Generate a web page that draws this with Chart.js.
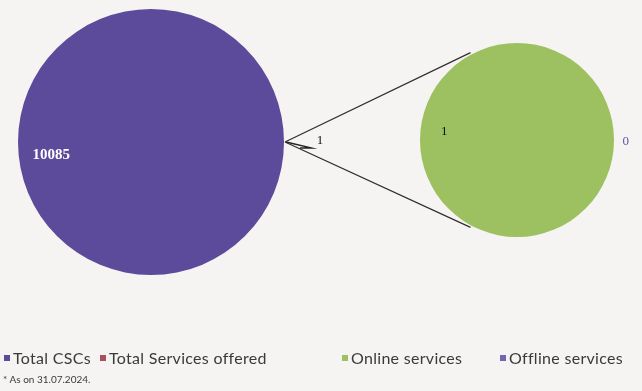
<!DOCTYPE html>
<html>
<head>
<meta charset="utf-8">
<script src="https://cdn.jsdelivr.net/npm/chart.js@4.4.0/dist/chart.umd.min.js"></script>
<style>
  html, body { margin: 0; padding: 0; }
  body {
    width: 642px; height: 391px; overflow: hidden; position: relative;
    background: #f6f4f3; font-family: Lato, 'Open Sans', sans-serif; color: #3a3a3a;
  }
  canvas { position: absolute; left: 0; top: 0; }
  #legend { position: absolute; left: 0; top: 348px; width: 642px; height: 22px; font-size: 16px; letter-spacing: 0.3px; white-space: nowrap; }
  #legend .item { position: absolute; top: 0; }
  #legend .sw { display: inline-block; width: 6px; height: 6px; margin-right: 3px; vertical-align: 3px; }
  #note { position: absolute; left: 3px; top: 373px; font-size: 10px; }
</style>
</head>
<body>
<canvas id="mainPie" width="642" height="391"></canvas>
<canvas id="subPie" width="642" height="391"></canvas>
<div id="legend"></div>
<div id="note">* As on 31.07.2024.</div>

<script>
// Pie of pie: CSC figures (as on 31.07.2024)
const mainLabels = ['Total CSCs', 'Total Services offered'];
const mainValues = [10085, 0];
const subLabels = ['Online services', 'Offline services'];
const subValues = [1, 0];

const mainColors = ['#5c4a9b', '#a5525d'];
const subColors = ['#9dc160', '#7565b0'];
const legendX = [4, 100, 342, 500];

// the "other" slice of the main pie is what gets split into the second pie
const otherValue = subValues.reduce((a, b) => a + b, 0);
const mainTotal = mainValues.reduce((a, b) => a + b, 0) + otherValue;

// pie labels, placed from the arc geometry
const pieLabels = {
    id: 'pieLabels',
    afterDatasetsDraw(chart, args, opts) {
        const ctx = chart.ctx;
        const meta = chart.getDatasetMeta(0);
        const data = chart.data.datasets[0].data;
        ctx.save();
        ctx.textAlign = 'center';
        ctx.textBaseline = 'middle';
        meta.data.forEach((arc, i) => {
            const spec = opts.items[i];
            if (!spec) return;
            const p = arc.getProps(['x', 'y', 'startAngle', 'endAngle', 'outerRadius'], true);
            const mid = (p.startAngle + p.endAngle) / 2;
            const d = p.outerRadius * spec.f;
            const lx = p.x + Math.cos(mid) * d;
            const ly = p.y + Math.sin(mid) * d + (spec.dy || 0);
            if (spec.leader) {
                ctx.strokeStyle = '#222';
                ctx.lineWidth = 1.3;
                ctx.beginPath();
                ctx.moveTo(p.x + Math.cos(mid) * (p.outerRadius + 2), p.y + Math.sin(mid) * (p.outerRadius + 2));
                ctx.lineTo(lx - 8, ly + 7);
                ctx.lineTo(lx - 20, ly + 7);
                ctx.stroke();
            }
            ctx.font = spec.font;
            ctx.fillStyle = spec.color;
            ctx.fillText(String(data[i]), lx, ly);
        });
        ctx.restore();
    }
};

const mainChart = new Chart(document.getElementById('mainPie'), {
    type: 'pie',
    data: {
        labels: [...mainLabels, 'Other'],
        datasets: [{
            data: [...mainValues, otherValue],
            backgroundColor: [...mainColors, mainColors[0]],
            borderWidth: 0
        }]
    },
    options: {
        responsive: false,
        animation: false,
        rotation: 90 + (otherValue / mainTotal) * 180,
        layout: { padding: { left: 18, top: 9, right: 358, bottom: 116 } },
        plugins: {
            legend: { display: false },
            tooltip: { enabled: false },
            pieLabels: {
                items: [
                    { f: 0.75, dy: 13, font: 'bold 15px "Liberation Serif"', color: '#ffffff' },
                    null,
                    { f: 1.27, dy: -1, font: '13px "Liberation Serif"', color: '#111111', leader: true }
                ]
            }
        }
    },
    plugins: [pieLabels]
});

// connector lines from the "other" slice to the second pie
const connectors = {
    id: 'connectors',
    afterDraw(chart) {
        const ctx = chart.ctx;
        const src = mainChart.getDatasetMeta(0).data[2].getProps(['x', 'y', 'outerRadius'], true);
        const dst = chart.getDatasetMeta(0).data[0].getProps(['x', 'y', 'outerRadius'], true);
        const sx = src.x + src.outerRadius + 1;
        const sy = src.y;
        const a = Math.PI * 118 / 180;
        const r = dst.outerRadius + 2;
        ctx.save();
        ctx.strokeStyle = '#2e2e2e';
        ctx.lineWidth = 1.2;
        ctx.beginPath();
        ctx.moveTo(sx, sy);
        ctx.lineTo(dst.x + Math.cos(a) * r, dst.y - Math.sin(a) * r);
        ctx.moveTo(sx, sy);
        ctx.lineTo(dst.x + Math.cos(a) * r, dst.y + Math.sin(a) * r);
        ctx.stroke();
        ctx.restore();
    }
};

new Chart(document.getElementById('subPie'), {
    type: 'pie',
    data: {
        labels: subLabels,
        datasets: [{
            data: subValues,
            backgroundColor: subColors,
            borderWidth: 0
        }]
    },
    options: {
        responsive: false,
        animation: false,
        rotation: 90,
        layout: { padding: { left: 419, top: 43, right: 27, bottom: 154 } },
        plugins: {
            legend: { display: false },
            tooltip: { enabled: false },
            pieLabels: {
                items: [
                    { f: 0.75, dy: -8, font: '13px "Liberation Serif"', color: '#111111' },
                    { f: 1.12, dy: 2, font: '13px "Liberation Serif"', color: '#5e57a0' }
                ]
            }
        }
    },
    plugins: [pieLabels, connectors]
});

// legend row
const legendLabels = [...mainLabels, ...subLabels];
const legendColors = [...mainColors, ...subColors];
const legend = document.getElementById('legend');
legendLabels.forEach((name, i) => {
    const item = document.createElement('span');
    item.className = 'item';
    item.style.left = legendX[i] + 'px';
    item.innerHTML = '<span class="sw" style="background:' + legendColors[i] + '"></span>' + name;
    legend.appendChild(item);
});
</script>
</body>
</html>
